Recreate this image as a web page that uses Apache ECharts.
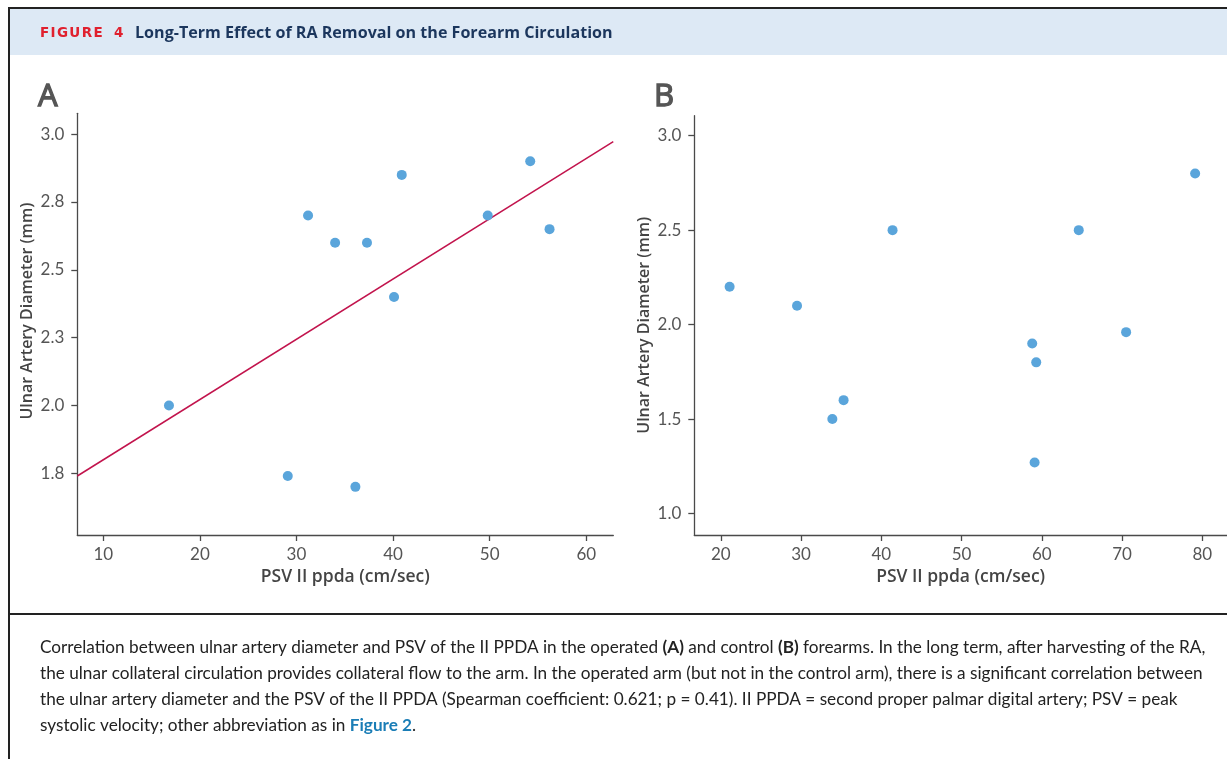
<!DOCTYPE html>
<html>
<head>
<meta charset="utf-8">
<script src="https://cdn.jsdelivr.net/npm/echarts@6/dist/echarts.min.js"></script>
<style>
  html, body { margin: 0; padding: 0; background: #fff; }
  #chart { width: 1227px; height: 759px; }
</style>
</head>
<body>
<div id="chart"></div>
<script>
// ---- Panel A (operated forearm) ----
const aPsv = [16.8, 29.1, 31.2, 34.0, 36.1, 37.3, 40.1, 40.9, 49.8, 54.2, 56.2];
const aDiam = [2.00, 1.74, 2.70, 2.60, 1.70, 2.60, 2.40, 2.85, 2.70, 2.90, 2.65];
// regression line end points
const aFitX = [7.31, 62.8];
const aFitY = [1.74, 2.973];
const aXTicks = [10, 20, 30, 40, 50, 60];
const aYTicks = [1.75, 2.0, 2.25, 2.5, 2.75, 3.0];

// ---- Panel B (control forearm) ----
const bPsv = [21.1, 29.5, 33.9, 35.3, 41.4, 58.8, 59.3, 59.1, 64.6, 70.5, 79.1];
const bDiam = [2.20, 2.10, 1.50, 1.60, 2.50, 1.90, 1.80, 1.27, 2.50, 1.96, 2.80];
const bXTicks = [20, 30, 40, 50, 60, 70, 80];
const bYTicks = [1.0, 1.5, 2.0, 2.5, 3.0];

const xName = 'PSV II ppda (cm/sec)';
const yName = 'Ulnar Artery Diameter (mm)';

const FONT = 'Lato, "Open Sans", sans-serif';
const NFONT = '"Open Sans", Lato, sans-serif';
const AXIS = '#4a4a4a';
const LABEL = '#555';
const DOT = '#5aa5db';
const FIT = '#c2144d';

function xAxis(gridIndex, min, max, ticks) {
  return {
    type: 'value', gridIndex, min, max,
    name: xName, nameLocation: 'middle', nameGap: 32,
    nameTextStyle: { color: '#444', fontSize: 17.5, fontWeight: 600, fontFamily: NFONT },
    axisLine: { show: true, onZero: false, lineStyle: { color: AXIS, width: 1.3 } },
    axisTick: { show: true, length: 6, customValues: ticks, lineStyle: { color: AXIS, width: 1.3 } },
    axisLabel: { customValues: ticks, margin: 11, color: LABEL, fontSize: 17, fontFamily: FONT },
    splitLine: { show: false }
  };
}
function yAxis(gridIndex, min, max, ticks, shift) {
  return {
    type: 'value', gridIndex, min, max,
    name: yName, nameLocation: 'middle', nameGap: 42, nameRotate: 90,
    nameTextStyle: { color: '#444', fontSize: 16, fontWeight: 600, fontFamily: NFONT,
                     padding: [0, 0, 0, shift] },
    axisLine: { show: true, onZero: false, lineStyle: { color: AXIS, width: 1.3 } },
    axisTick: { show: true, length: 6, customValues: ticks, lineStyle: { color: AXIS, width: 1.3 } },
    axisLabel: { customValues: ticks, margin: 13, color: LABEL, fontSize: 17, fontFamily: FONT,
                 formatter: v => v.toFixed(1) },
    splitLine: { show: false }
  };
}

const pairs = (xs, ys) => xs.map((x, i) => [x, ys[i]]);

const captionLines = [
  'Correlation between ulnar artery diameter and PSV of the II PPDA in the operated {b|(A)} and control {b|(B)} forearms. In the long term, after harvesting of the RA,',
  'the ulnar collateral circulation provides collateral flow to the arm. In the operated arm (but not in the control arm), there is a significant correlation between',
  'the ulnar artery diameter and the PSV of the II PPDA (Spearman coefficient: 0.621; p = 0.41). II PPDA = second proper palmar digital artery; PSV = peak',
  'systolic velocity; other abbreviation as in {l|Figure 2}.'
];

const chart = echarts.init(document.getElementById('chart'), null, { renderer: 'canvas' });
chart.setOption({
  animation: false,
  backgroundColor: '#fff',
  grid: [
    { left: 77.3, top: 113.3, width: 536, height: 421.7 },
    { left: 694.3, top: 115.7, width: 533, height: 419.3 }
  ],
  xAxis: [
    xAxis(0, 7.31, 62.8, aXTicks),
    xAxis(1, 16.7, 83.07, bXTicks)
  ],
  yAxis: [
    yAxis(0, 1.5225, 3.077, aYTicks, 26),
    yAxis(1, 0.886, 3.106, bYTicks, 0)
  ],
  series: [
    { type: 'line', xAxisIndex: 0, yAxisIndex: 0, data: pairs(aFitX, aFitY),
      symbol: 'none', lineStyle: { color: FIT, width: 1.5 }, z: 2 },
    { type: 'scatter', xAxisIndex: 0, yAxisIndex: 0, data: pairs(aPsv, aDiam),
      symbolSize: 10, itemStyle: { color: DOT, opacity: 1 }, z: 3 },
    { type: 'scatter', xAxisIndex: 1, yAxisIndex: 1, data: pairs(bPsv, bDiam),
      symbolSize: 10, itemStyle: { color: DOT, opacity: 1 }, z: 3 }
  ],
  graphic: [
    // header band
    { type: 'rect', shape: { x: 9, y: 9, width: 1220, height: 46 }, style: { fill: '#dde9f5' }, z: 0 },
    // frame lines
    { type: 'line', shape: { x1: 8, y1: 8, x2: 1227, y2: 8 }, style: { stroke: '#222', lineWidth: 2 } },
    { type: 'line', shape: { x1: 9, y1: 7, x2: 9, y2: 759 }, style: { stroke: '#222', lineWidth: 2 } },
    { type: 'line', shape: { x1: 8, y1: 614, x2: 1227, y2: 614 }, style: { stroke: '#222', lineWidth: 2 } },
    // header texts
    { type: 'text', x: 40, y: 33, style: {
        text: 'F\u200AI\u200AG\u200AU\u200AR\u200AE\u2002 4', fill: '#e0202e',
        font: 'bold 13.5px "DejaVu Sans", sans-serif', verticalAlign: 'middle' } },
    { type: 'text', x: 135, y: 33, style: {
        text: 'Long-Term Effect of RA Removal on the Forearm Circulation', fill: '#1b365d',
        font: 'bold 16.1px ' + NFONT, verticalAlign: 'middle' } },
    // panel letters
    { type: 'text', x: 38, y: 97, style: { text: 'A', fill: '#555', stroke: '#555', lineWidth: 1.3,
        font: '31px ' + NFONT, verticalAlign: 'middle' } },
    { type: 'text', x: 654, y: 97, style: { text: 'B', fill: '#555', stroke: '#555', lineWidth: 1.3,
        font: '31px ' + NFONT, verticalAlign: 'middle' } },
    // caption
    { type: 'text', x: 40, y: 634, style: {
        text: captionLines.join('\n'), fill: '#222',
        font: '17.2px ' + FONT, lineHeight: 26,
        rich: {
          b: { fontWeight: 'bold', fontSize: 17.2, fontFamily: FONT, fill: '#222', lineHeight: 26 },
          l: { fontWeight: 'bold', fontSize: 17.2, fontFamily: FONT, fill: '#1a7db6', lineHeight: 26 }
        } } }
  ]
});
</script>
</body>
</html>
